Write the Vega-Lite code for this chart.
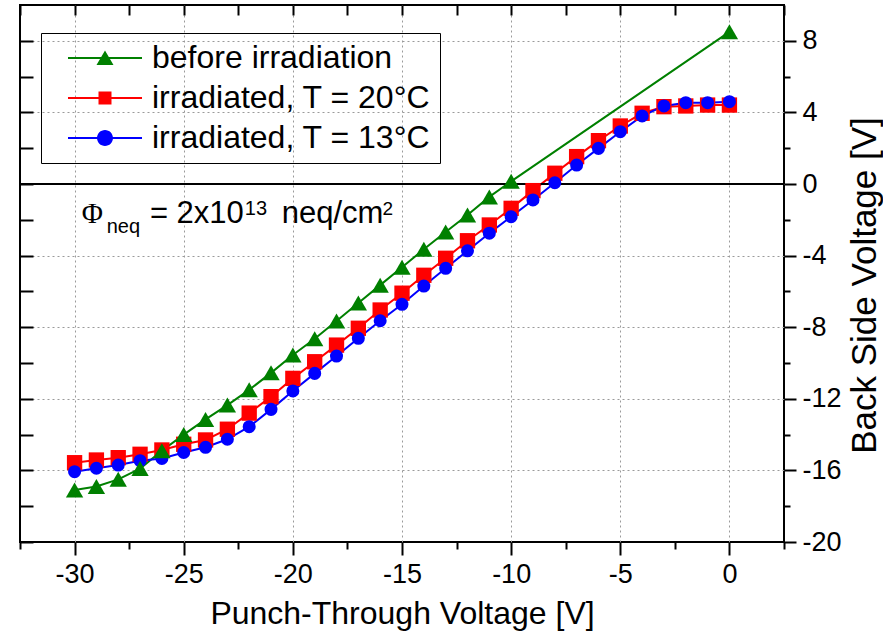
{
  "$schema": "https://vega.github.io/schema/vega-lite/v6.json",
  "width": 764,
  "height": 537,
  "autosize": {"type": "none"},
  "padding": {"left": 20, "top": 5, "right": 99, "bottom": 94},
  "background": "white",
  "config": {
    "view": {"stroke": "black", "strokeWidth": 2},
    "font": "Liberation Sans",
    "axis": {"domain": false, "minExtent": 0}
  },
  "data": {
    "values": [
      {"series": "before irradiation", "pt": -30, "bs": -17.1},
      {"series": "before irradiation", "pt": -29, "bs": -16.9},
      {"series": "before irradiation", "pt": -28, "bs": -16.5},
      {"series": "before irradiation", "pt": -27, "bs": -15.9},
      {"series": "before irradiation", "pt": -26, "bs": -14.9},
      {"series": "before irradiation", "pt": -25, "bs": -14.0},
      {"series": "before irradiation", "pt": -24, "bs": -13.15},
      {"series": "before irradiation", "pt": -23, "bs": -12.35},
      {"series": "before irradiation", "pt": -22, "bs": -11.5},
      {"series": "before irradiation", "pt": -21, "bs": -10.55},
      {"series": "before irradiation", "pt": -20, "bs": -9.55},
      {"series": "before irradiation", "pt": -19, "bs": -8.65},
      {"series": "before irradiation", "pt": -18, "bs": -7.65},
      {"series": "before irradiation", "pt": -17, "bs": -6.65},
      {"series": "before irradiation", "pt": -16, "bs": -5.65},
      {"series": "before irradiation", "pt": -15, "bs": -4.65},
      {"series": "before irradiation", "pt": -14, "bs": -3.65},
      {"series": "before irradiation", "pt": -13, "bs": -2.68},
      {"series": "before irradiation", "pt": -12, "bs": -1.73},
      {"series": "before irradiation", "pt": -11, "bs": -0.72},
      {"series": "before irradiation", "pt": -10, "bs": 0.15},
      {"series": "before irradiation", "pt": 0, "bs": 8.5},
      {"series": "irradiated, T = 20°C", "pt": -30, "bs": -15.57},
      {"series": "irradiated, T = 20°C", "pt": -29, "bs": -15.42},
      {"series": "irradiated, T = 20°C", "pt": -28, "bs": -15.29},
      {"series": "irradiated, T = 20°C", "pt": -27, "bs": -15.1},
      {"series": "irradiated, T = 20°C", "pt": -26, "bs": -14.86},
      {"series": "irradiated, T = 20°C", "pt": -25, "bs": -14.54},
      {"series": "irradiated, T = 20°C", "pt": -24, "bs": -14.3},
      {"series": "irradiated, T = 20°C", "pt": -23, "bs": -13.7},
      {"series": "irradiated, T = 20°C", "pt": -22, "bs": -12.8},
      {"series": "irradiated, T = 20°C", "pt": -21, "bs": -11.88},
      {"series": "irradiated, T = 20°C", "pt": -20, "bs": -10.86},
      {"series": "irradiated, T = 20°C", "pt": -19, "bs": -9.93},
      {"series": "irradiated, T = 20°C", "pt": -18, "bs": -9.0},
      {"series": "irradiated, T = 20°C", "pt": -17, "bs": -8.06},
      {"series": "irradiated, T = 20°C", "pt": -16, "bs": -7.04},
      {"series": "irradiated, T = 20°C", "pt": -15, "bs": -6.1},
      {"series": "irradiated, T = 20°C", "pt": -14, "bs": -5.1},
      {"series": "irradiated, T = 20°C", "pt": -13, "bs": -4.15},
      {"series": "irradiated, T = 20°C", "pt": -12, "bs": -3.17},
      {"series": "irradiated, T = 20°C", "pt": -11, "bs": -2.29},
      {"series": "irradiated, T = 20°C", "pt": -10, "bs": -1.36},
      {"series": "irradiated, T = 20°C", "pt": -9, "bs": -0.37},
      {"series": "irradiated, T = 20°C", "pt": -8, "bs": 0.6},
      {"series": "irradiated, T = 20°C", "pt": -7, "bs": 1.53},
      {"series": "irradiated, T = 20°C", "pt": -6, "bs": 2.42},
      {"series": "irradiated, T = 20°C", "pt": -5, "bs": 3.24},
      {"series": "irradiated, T = 20°C", "pt": -4, "bs": 3.95},
      {"series": "irradiated, T = 20°C", "pt": -3, "bs": 4.32},
      {"series": "irradiated, T = 20°C", "pt": -2, "bs": 4.36},
      {"series": "irradiated, T = 20°C", "pt": -1, "bs": 4.41},
      {"series": "irradiated, T = 20°C", "pt": 0, "bs": 4.41},
      {"series": "irradiated, T = 13°C", "pt": -30, "bs": -16.07},
      {"series": "irradiated, T = 13°C", "pt": -29, "bs": -15.88},
      {"series": "irradiated, T = 13°C", "pt": -28, "bs": -15.7},
      {"series": "irradiated, T = 13°C", "pt": -27, "bs": -15.46},
      {"series": "irradiated, T = 13°C", "pt": -26, "bs": -15.33},
      {"series": "irradiated, T = 13°C", "pt": -25, "bs": -15.0},
      {"series": "irradiated, T = 13°C", "pt": -24, "bs": -14.71},
      {"series": "irradiated, T = 13°C", "pt": -23, "bs": -14.26},
      {"series": "irradiated, T = 13°C", "pt": -22, "bs": -13.56},
      {"series": "irradiated, T = 13°C", "pt": -21, "bs": -12.59},
      {"series": "irradiated, T = 13°C", "pt": -20, "bs": -11.56},
      {"series": "irradiated, T = 13°C", "pt": -19, "bs": -10.58},
      {"series": "irradiated, T = 13°C", "pt": -18, "bs": -9.61},
      {"series": "irradiated, T = 13°C", "pt": -17, "bs": -8.62},
      {"series": "irradiated, T = 13°C", "pt": -16, "bs": -7.64},
      {"series": "irradiated, T = 13°C", "pt": -15, "bs": -6.72},
      {"series": "irradiated, T = 13°C", "pt": -14, "bs": -5.7},
      {"series": "irradiated, T = 13°C", "pt": -13, "bs": -4.71},
      {"series": "irradiated, T = 13°C", "pt": -12, "bs": -3.73},
      {"series": "irradiated, T = 13°C", "pt": -11, "bs": -2.75},
      {"series": "irradiated, T = 13°C", "pt": -10, "bs": -1.83},
      {"series": "irradiated, T = 13°C", "pt": -9, "bs": -0.89},
      {"series": "irradiated, T = 13°C", "pt": -8, "bs": 0.07},
      {"series": "irradiated, T = 13°C", "pt": -7, "bs": 1.06},
      {"series": "irradiated, T = 13°C", "pt": -6, "bs": 1.99},
      {"series": "irradiated, T = 13°C", "pt": -5, "bs": 2.92},
      {"series": "irradiated, T = 13°C", "pt": -4, "bs": 3.8},
      {"series": "irradiated, T = 13°C", "pt": -3, "bs": 4.36},
      {"series": "irradiated, T = 13°C", "pt": -2, "bs": 4.54},
      {"series": "irradiated, T = 13°C", "pt": -1, "bs": 4.54},
      {"series": "irradiated, T = 13°C", "pt": 0, "bs": 4.6}
    ]
  },
  "resolve": {
    "axis": {"x": "independent", "y": "independent"},
    "scale": {"color": "independent", "shape": "independent", "size": "independent"}
  },
  "layer": [
    {
      "mark": {"type": "line", "strokeWidth": 2},
      "encoding": {
        "x": {
          "field": "pt", "type": "quantitative",
          "scale": {"domain": [-32.5, 2.5], "nice": false, "zero": false},
          "axis": {
            "orient": "bottom",
            "values": [-32.5, -30, -27.5, -25, -22.5, -20, -17.5, -15, -12.5, -10, -7.5, -5, -2.5, 0, 2.5],
            "labelExpr": "datum.value % 5 === 0 ? toString(datum.value) : ''",
            "tickSize": {"condition": {"test": "datum.value % 5 === 0", "value": 13}, "value": 7},
            "tickWidth": 2, "tickColor": "black",
            "labelFontSize": 27, "labelColor": "black", "labelPadding": 6, "labelFont": "Liberation Sans",
            "grid": true, "gridColor": "#9a9a9a", "gridDash": [2, 3], "gridWidth": 1,
            "gridOpacity": {"condition": {"test": "datum.value % 5 === 0 && datum.value > -32 && datum.value < 2", "value": 1}, "value": 0},
            "title": "Punch-Through Voltage [V]", "titleFontSize": 32, "titleFontWeight": "normal",
            "titleColor": "black", "titleFont": "Liberation Sans", "titlePadding": 11
          }
        },
        "y": {
          "field": "bs", "type": "quantitative",
          "scale": {"domain": [-20, 10], "nice": false, "zero": false},
          "axis": {
            "orient": "right",
            "values": [-20, -18, -16, -14, -12, -10, -8, -6, -4, -2, 0, 2, 4, 6, 8],
            "labelExpr": "datum.value % 4 === 0 ? toString(datum.value) : ''",
            "tickSize": {"condition": {"test": "datum.value % 4 === 0", "value": 12}, "value": 6},
            "tickWidth": 2, "tickColor": "black",
            "labelFontSize": 27, "labelColor": "black", "labelPadding": 6, "labelFont": "Liberation Sans",
            "grid": true, "gridColor": "#9a9a9a", "gridDash": [2, 3], "gridWidth": 1,
            "gridOpacity": {"condition": {"test": "datum.value % 4 === 0 && datum.value > -19", "value": 1}, "value": 0},
            "title": "Back Side Voltage [V]", "titleFontSize": 35, "titleFontWeight": "normal",
            "titleColor": "black", "titleFont": "Liberation Sans", "titleAngle": 270, "titleBaseline": "top", "titlePadding": 6,
            "titleY": 280
          }
        },
        "detail": {"field": "series", "type": "nominal"},
        "stroke": {
          "condition": [
            {"test": "datum.series === 'before irradiation'", "value": "#008000"},
            {"test": "datum.series === 'irradiated, T = 20°C'", "value": "#ff0000"}
          ],
          "value": "#0000ff"
        }
      }
    },
    {
      "data": {"values": [{}]},
      "mark": {"type": "rule", "color": "black", "strokeWidth": 2},
      "encoding": {
        "y": {"datum": 0, "type": "quantitative", "axis": null}
      }
    },
    {
      "mark": {"type": "point", "filled": true, "opacity": 1, "strokeWidth": 0},
      "encoding": {
        "x": {
          "field": "pt", "type": "quantitative",
          "axis": {
            "orient": "top",
            "values": [-32.5, -30, -27.5, -25, -22.5, -20, -17.5, -15, -12.5, -10, -7.5, -5, -2.5, 0, 2.5],
            "labels": false, "tickSize": -10, "tickWidth": 2, "tickColor": "black", "grid": false, "title": null
          }
        },
        "y": {
          "field": "bs", "type": "quantitative",
          "axis": {
            "orient": "left",
            "values": [-20, -18, -16, -14, -12, -10, -8, -6, -4, -2, 0, 2, 4, 6, 8],
            "labels": false, "tickSize": -13, "tickWidth": 2, "tickColor": "black", "grid": false, "title": null
          }
        },
        "color": {
          "field": "series", "type": "nominal",
          "scale": {"domain": ["before irradiation", "irradiated, T = 20°C", "irradiated, T = 13°C"], "range": ["#008000", "#ff0000", "#0000ff"]},
          "legend": null
        },
        "shape": {
          "field": "series", "type": "nominal",
          "scale": {"domain": ["before irradiation", "irradiated, T = 20°C", "irradiated, T = 13°C"], "range": ["triangle-up", "square", "circle"]},
          "legend": null
        },
        "size": {
          "field": "series", "type": "nominal",
          "scale": {"domain": ["before irradiation", "irradiated, T = 20°C", "irradiated, T = 13°C"], "range": [300, 170, 256]},
          "legend": null
        },
        "order": {"field": "series", "sort": "descending"}
      }
    },
    {
      "data": {"values": [{}]},
      "mark": {"type": "text", "text": "Φ", "font": "Liberation Serif", "fontSize": 29, "align": "left", "baseline": "alphabetic", "color": "black"},
      "encoding": {"x": {"datum": -29.67, "type": "quantitative", "axis": null}, "y": {"datum": -2.2, "type": "quantitative", "axis": null}}
    },
    {
      "data": {"values": [{}]},
      "mark": {"type": "text", "text": "neq", "fontSize": 20, "align": "left", "baseline": "alphabetic", "color": "black"},
      "encoding": {"x": {"datum": -28.53, "type": "quantitative", "axis": null}, "y": {"datum": -2.72, "type": "quantitative", "axis": null}}
    },
    {
      "data": {"values": [{}]},
      "mark": {"type": "text", "text": "= 2x10", "fontSize": 31, "align": "left", "baseline": "alphabetic", "color": "black"},
      "encoding": {"x": {"datum": -26.55, "type": "quantitative", "axis": null}, "y": {"datum": -2.2, "type": "quantitative", "axis": null}}
    },
    {
      "data": {"values": [{}]},
      "mark": {"type": "text", "text": "13", "fontSize": 20, "align": "left", "baseline": "alphabetic", "color": "black"},
      "encoding": {"x": {"datum": -22.2, "type": "quantitative", "axis": null}, "y": {"datum": -1.73, "type": "quantitative", "axis": null}}
    },
    {
      "data": {"values": [{}]},
      "mark": {"type": "text", "text": "neq/cm", "fontSize": 31, "align": "left", "baseline": "alphabetic", "color": "black"},
      "encoding": {"x": {"datum": -20.51, "type": "quantitative", "axis": null}, "y": {"datum": -2.2, "type": "quantitative", "axis": null}}
    },
    {
      "data": {"values": [{}]},
      "mark": {"type": "text", "text": "2", "fontSize": 19, "align": "left", "baseline": "alphabetic", "color": "black"},
      "encoding": {"x": {"datum": -15.89, "type": "quantitative", "axis": null}, "y": {"datum": -1.73, "type": "quantitative", "axis": null}}
    },
    {
      "transform": [{"filter": "datum.pt > 100"}],
      "mark": {"type": "point", "filled": true, "opacity": 1, "strokeWidth": 0},
      "encoding": {
        "color": {
          "field": "series", "type": "nominal",
          "scale": {"domain": ["before irradiation", "irradiated, T = 20°C", "irradiated, T = 13°C"], "range": ["#008000", "#ff0000", "#0000ff"]},
          "legend": {
            "orient": "none", "legendX": 21, "legendY": 28, "title": null,
            "labelFontSize": 32, "labelFont": "Liberation Sans", "labelColor": "black", "labelLimit": 500,
            "strokeColor": "black", "padding": 9, "symbolSize": 900, "symbolStrokeWidth": 0,
            "symbolOffset": 39, "labelOffset": 31, "rowPadding": 8
          }
        },
        "shape": {
          "field": "series", "type": "nominal",
          "scale": {
            "domain": ["before irradiation", "irradiated, T = 20°C", "irradiated, T = 13°C"],
            "range": [
              "M-2.467,-0.067H2.467V0.067H-2.467Z M0,-0.5L0.567,0.47L-0.567,0.47Z",
              "M-2.467,-0.067H2.467V0.067H-2.467Z M-0.433,-0.433H0.433V0.433H-0.433Z",
              "M-2.467,-0.067H2.467V0.067H-2.467Z M0.533,0A0.533,0.533,0,1,1,-0.533,0A0.533,0.533,0,1,1,0.533,0Z"
            ]
          }
        }
      }
    }
  ]
}
